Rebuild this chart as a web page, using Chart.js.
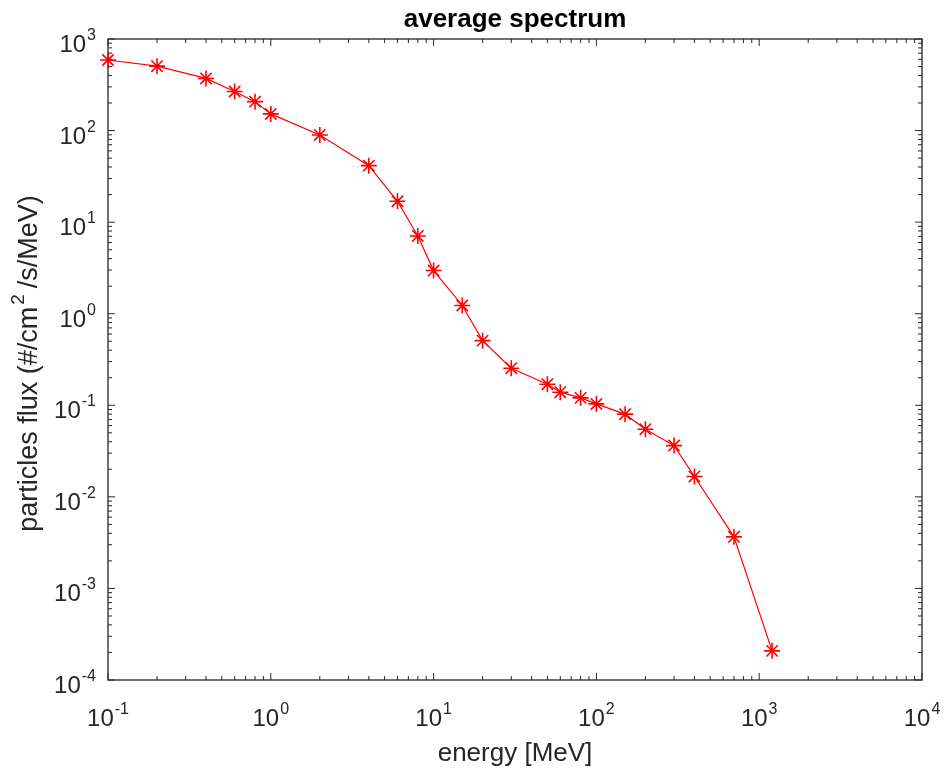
<!DOCTYPE html>
<html>
<head>
<meta charset="utf-8">
<script src="https://cdn.jsdelivr.net/npm/chart.js@4.4.1/dist/chart.umd.min.js"></script>
<style>
  html, body { margin: 0; padding: 0; background: #ffffff; }
  canvas { display: block; }
</style>
</head>
<body>
<canvas id="c" width="944" height="771"></canvas>
<script>
// ---- data ----
const energy = [0.1, 0.2, 0.4, 0.6, 0.8, 1, 2, 4, 6, 8, 10, 15, 20, 30, 50, 60, 80, 100, 150, 200, 300, 400, 700, 1200];
const flux = [590, 505, 371, 267, 207, 152, 89.6, 41.4, 16.9, 7.07, 2.96, 1.23, 0.508, 0.254, 0.170, 0.139, 0.1205, 0.1035, 0.080, 0.0548, 0.0363, 0.0167, 0.00366, 0.000208];

const xTickExponents = ['-1', '0', '1', '2', '3', '4'];
const yTickExponents = ['-4', '-3', '-2', '-1', '0', '1', '2', '3'];

const titleText = 'average spectrum';
const xLabelText = 'energy [MeV]';
const yLabelParts = ['particles flux (#/cm', '2', '/s/MeV)'];

const AXIS_COLOR = '#262626';
const FONT = '"Liberation Sans", Arial, Helvetica, sans-serif';

const axesPlugin = {
  id: 'matlabAxes',
  beforeDatasetsDraw(chart) {
    const ctx = chart.ctx;
    const xs = chart.scales.x, ys = chart.scales.y;
    const L = chart.chartArea.left, R = chart.chartArea.right;
    const T = chart.chartArea.top, B = chart.chartArea.bottom;
    ctx.save();
    ctx.strokeStyle = AXIS_COLOR;
    ctx.lineWidth = 1.3;
    ctx.strokeRect(L, T, R - L, B - T);

    const major = 7, minor = 4;
    ctx.lineWidth = 1;
    ctx.beginPath();
    // x ticks
    xTickExponents.forEach((e, i) => {
      const p = parseInt(e, 10);
      const base = Math.pow(10, p);
      const px = xs.getPixelForValue(base);
      ctx.moveTo(px, B); ctx.lineTo(px, B - major);
      ctx.moveTo(px, T); ctx.lineTo(px, T + major);
      if (i < xTickExponents.length - 1) {
        for (let k = 2; k <= 9; k++) {
          const q = xs.getPixelForValue(k * base);
          ctx.moveTo(q, B); ctx.lineTo(q, B - minor);
          ctx.moveTo(q, T); ctx.lineTo(q, T + minor);
        }
      }
    });
    // y ticks
    yTickExponents.forEach((e, i) => {
      const p = parseInt(e, 10);
      const base = Math.pow(10, p);
      const py = ys.getPixelForValue(base);
      ctx.moveTo(L, py); ctx.lineTo(L + major, py);
      ctx.moveTo(R, py); ctx.lineTo(R - major, py);
      if (i < yTickExponents.length - 1) {
        for (let k = 2; k <= 9; k++) {
          const q = ys.getPixelForValue(k * base);
          ctx.moveTo(L, q); ctx.lineTo(L + minor, q);
          ctx.moveTo(R, q); ctx.lineTo(R - minor, q);
        }
      }
    });
    ctx.stroke();

    // tick labels
    const baseFont = '24px ' + FONT;
    const expFont = '16px ' + FONT;
    ctx.fillStyle = AXIS_COLOR;
    ctx.textBaseline = 'alphabetic';
    ctx.textAlign = 'left';
    xTickExponents.forEach(e => {
      const px = xs.getPixelForValue(Math.pow(10, parseInt(e, 10)));
      ctx.font = baseFont; const w1 = ctx.measureText('10').width;
      ctx.font = expFont; const w2 = ctx.measureText(e).width;
      const x0 = px - (w1 + w2 + 1) / 2;
      ctx.font = baseFont; ctx.fillText('10', x0, B + 46);
      ctx.font = expFont; ctx.fillText(e, x0 + w1 + 1, B + 34);
    });
    yTickExponents.forEach(e => {
      const py = ys.getPixelForValue(Math.pow(10, parseInt(e, 10)));
      ctx.font = baseFont; const w1 = ctx.measureText('10').width;
      ctx.font = expFont; const w2 = ctx.measureText(e).width;
      const x0 = L - 12 - w2 - 1 - w1;
      ctx.font = baseFont; ctx.fillText('10', x0, py + 13);
      ctx.font = expFont; ctx.fillText(e, x0 + w1 + 1, py + 1);
    });

    // title
    ctx.textAlign = 'center';
    ctx.font = 'bold 26px ' + FONT;
    ctx.fillStyle = '#000000';
    ctx.fillText(titleText, (L + R) / 2, 27);

    // x label
    ctx.fillStyle = AXIS_COLOR;
    ctx.font = '26px ' + FONT;
    ctx.fillText(xLabelText, (L + R) / 2, 761);

    // y label (rotated, with superscript)
    ctx.save();
    ctx.translate(37, (T + B) / 2 + 4);
    ctx.rotate(-Math.PI / 2);
    ctx.textAlign = 'left';
    const f1 = '27px ' + FONT, f2 = '19px ' + FONT;
    ctx.font = f1; const a = ctx.measureText(yLabelParts[0]).width;
    ctx.font = f2; const b = ctx.measureText(yLabelParts[1]).width;
    ctx.font = f1; const c = ctx.measureText(yLabelParts[2]).width;
    const g1 = 2, g2 = 6;
    const total = a + b + c + g1 + g2;
    let x = -total / 2;
    ctx.font = f1; ctx.fillText(yLabelParts[0], x, 0); x += a + g1;
    ctx.font = f2; ctx.fillText(yLabelParts[1], x, -13); x += b + g2;
    ctx.font = f1; ctx.fillText(yLabelParts[2], x, 0);
    ctx.restore();

    ctx.restore();
  }
};

new Chart(document.getElementById('c'), {
  type: 'line',
  data: {
    datasets: [{
      data: energy.map((e, i) => ({ x: e, y: flux[i] })),
      borderColor: '#ff0000',
      borderWidth: 1.2,
      pointStyle: 'star',
      pointRadius: 8,
      pointBorderColor: '#ff0000',
      pointBackgroundColor: '#ff0000',
      pointBorderWidth: 1.6,
      tension: 0,
      fill: false,
      clip: false
    }]
  },
  options: {
    responsive: false,
    animation: false,
    devicePixelRatio: 1,
    layout: { padding: { left: 108, right: 22, top: 39, bottom: 91 } },
    plugins: { legend: { display: false }, tooltip: { enabled: false }, title: { display: false } },
    scales: {
      x: { type: 'logarithmic', min: 0.1, max: 10000, display: false },
      y: { type: 'logarithmic', min: 0.0001, max: 1000, display: false }
    }
  },
  plugins: [axesPlugin]
});
</script>
</body>
</html>
